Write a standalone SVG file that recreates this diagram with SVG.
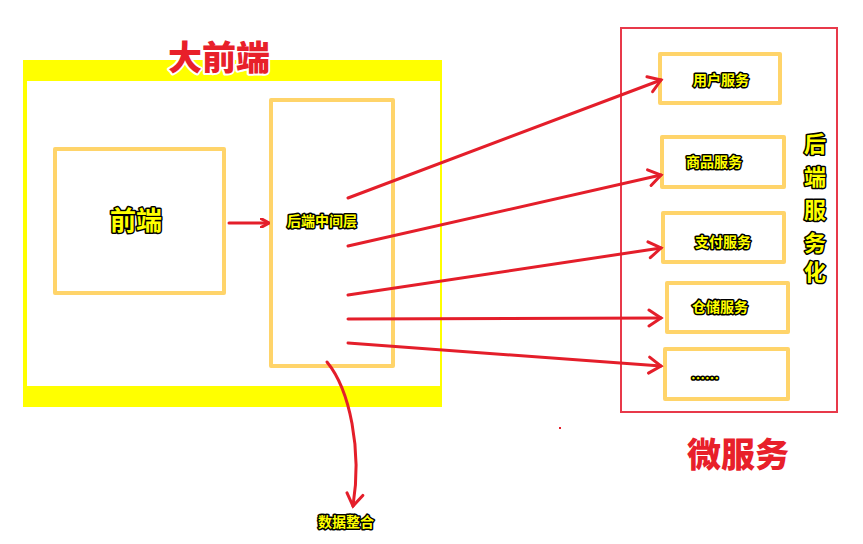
<svg xmlns="http://www.w3.org/2000/svg" width="863" height="544" viewBox="0 0 863 544">
<style>
.box{fill:none;stroke:#ffd46a;stroke-width:4;stroke-linejoin:round}
.yt{font-family:"Noto Sans CJK SC",sans-serif;font-weight:bold;fill:#ffff00;stroke:#000;stroke-width:3;paint-order:stroke;stroke-linejoin:round;text-anchor:middle}
.rt{font-family:"Noto Sans CJK SC",sans-serif;font-weight:900;fill:#e8202a;stroke:#fff;stroke-width:4;paint-order:stroke;stroke-linejoin:round;text-anchor:middle}
.c{fill:none;stroke:#e41e2a;stroke-width:3;stroke-linecap:round}
</style>
<defs><marker id="a" markerWidth="10" markerHeight="10" refX="8" refY="5" orient="auto" markerUnits="userSpaceOnUse"><path d="M0,0 L9,5 L0,10" fill="none" stroke="#e41e2a" stroke-width="3" stroke-linecap="round"/></marker>
<marker id="b" markerWidth="20" markerHeight="20" refX="14" refY="10" orient="auto" markerUnits="userSpaceOnUse"><path d="M2,2 L14,10 L2,18" fill="none" stroke="#e41e2a" stroke-width="3" stroke-linecap="round"/></marker></defs>
<rect width="863" height="544" fill="#fff"/>
<g id="bigfront"><rect x="23" y="60" width="419" height="347" fill="#ffff00"/><rect x="27" y="81" width="413" height="305" fill="#fff"/><text class="rt" x="219" y="70" font-size="34">大前端</text></g>
<g id="front"><rect class="box" x="55" y="149" width="169" height="144"/><text class="yt" x="136" y="230" font-size="26">前端</text></g>
<g id="middle"><rect class="box" x="271" y="100" width="122" height="266"/><text class="yt" x="322" y="226" font-size="14">后端中间层</text></g>
<g id="micro"><rect x="621" y="28" width="216" height="384" fill="none" stroke="#e8394a" stroke-width="2"/><text class="rt" x="738" y="467" font-size="34">微服务</text>
<text class="yt" font-size="22" x="815"><tspan x="815" y="152">后</tspan><tspan x="815" y="185">端</tspan><tspan x="815" y="218">服</tspan><tspan x="815" y="251">务</tspan><tspan x="815" y="280">化</tspan></text></g>
<g id="s1"><rect class="box" x="660" y="54" width="120" height="49"/><text class="yt" x="721" y="85" font-size="14">用户服务</text></g>
<g id="s2"><rect class="box" x="662" y="137" width="122" height="50"/><text class="yt" x="714" y="167" font-size="14">商品服务</text></g>
<g id="s3"><rect class="box" x="663" y="213" width="121" height="49"/><text class="yt" x="723" y="247" font-size="14">支付服务</text></g>
<g id="s4"><rect class="box" x="667" y="283" width="121" height="49"/><text class="yt" x="720" y="312" font-size="14">仓储服务</text></g>
<g id="s5"><rect class="box" x="665" y="349" width="123" height="50"/><text class="yt" x="705" y="383" font-size="14">……</text></g>
<g id="connectors">
<line class="c" x1="229" y1="223" x2="268" y2="223" marker-end="url(#a)"/>
<line class="c" x1="348" y1="198" x2="661" y2="80" marker-end="url(#b)"/>
<line class="c" x1="348" y1="246" x2="661" y2="175" marker-end="url(#b)"/>
<line class="c" x1="348" y1="295" x2="661" y2="248" marker-end="url(#b)"/>
<line class="c" x1="348" y1="319" x2="661" y2="318" marker-end="url(#b)"/>
<line class="c" x1="348" y1="343" x2="661" y2="366" marker-end="url(#b)"/>
<path class="c" d="M327,362 C350,390 362,450 353,506" marker-end="url(#b)"/>
</g>
<g id="merge"><text class="yt" x="346" y="527" font-size="14">数据整合</text></g>
<rect x="559" y="427" width="2" height="2" fill="#e41e2a"/>
</svg>
